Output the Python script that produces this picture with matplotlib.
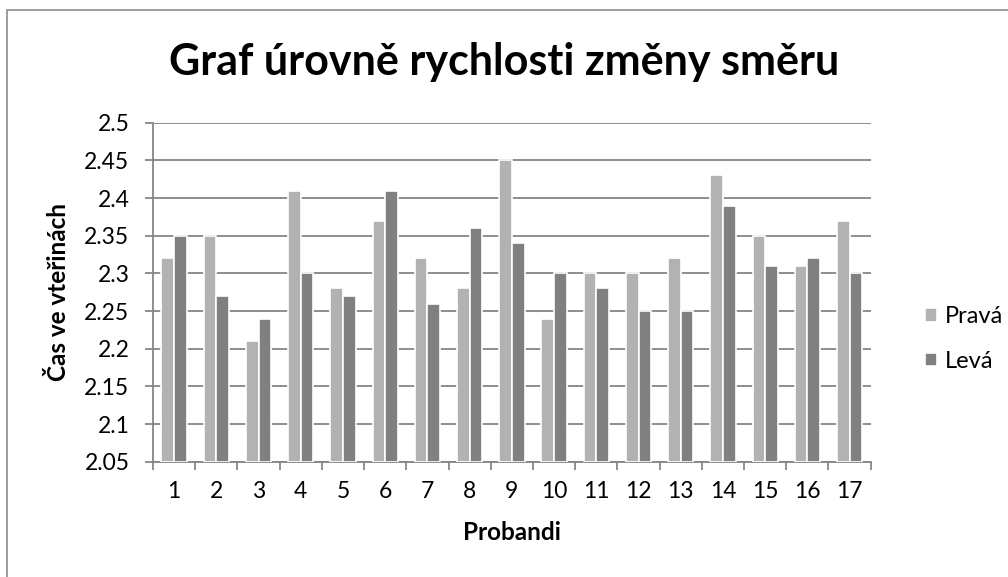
import matplotlib.pyplot as plt
import numpy as np
from matplotlib.patches import Rectangle

# data
probandi = [str(i) for i in range(1, 18)]
prava = [2.32, 2.35, 2.21, 2.41, 2.28, 2.37, 2.32, 2.28, 2.45, 2.24, 2.30, 2.30, 2.32, 2.43, 2.35, 2.31, 2.37]
leva = [2.35, 2.27, 2.24, 2.30, 2.27, 2.41, 2.26, 2.36, 2.34, 2.30, 2.28, 2.25, 2.25, 2.39, 2.31, 2.32, 2.30]
y_ticks = [2.05, 2.1, 2.15, 2.2, 2.25, 2.3, 2.35, 2.4, 2.45, 2.5]

plt.rcParams['font.family'] = ['Lato', 'DejaVu Sans']

fig = plt.figure(figsize=(10.08, 5.77), dpi=100)
ax = fig.add_axes([0.1518, 0.1998, 0.712, 0.5875])

# outer chart border (cropped at right / bottom like the original)
fig.patches.append(Rectangle((7 / 1008, -0.1), 1.2, 1 - 10 / 577 + 0.1,
                             transform=fig.transFigure, fill=False,
                             edgecolor='#8c8c8c', linewidth=1.2))

x = np.arange(len(probandi))
w = 0.30
base = 2.05
ax.bar(x - w / 2, np.array(prava) - base, w, bottom=base, color='#b2b2b2',
       edgecolor='white', linewidth=1.2, label='Pravá', zorder=3)
ax.bar(x + w / 2, np.array(leva) - base, w, bottom=base, color='#808080',
       edgecolor='white', linewidth=1.2, label='Levá', zorder=3)

ax.set_ylim(2.05, 2.5)
ax.set_xlim(-0.5, len(probandi) - 0.5)
ax.set_yticks(y_ticks)
ax.set_yticklabels([f'{v:g}' for v in y_ticks])
ax.yaxis.grid(True, color='#868686', linewidth=1.3, zorder=0)
ax.set_axisbelow(True)

ax.set_xticks(x)
ax.set_xticklabels(probandi)
ax.set_xticks(np.arange(-0.5, len(probandi)), minor=True)
ax.tick_params(axis='x', which='major', length=0, pad=14, labelsize=16.5)
ax.tick_params(axis='x', which='minor', length=6, color='#868686', width=1.3)
ax.tick_params(axis='y', length=6, color='#868686', width=1.3, pad=11, labelsize=16.5)

for s in ['top', 'right']:
    ax.spines[s].set_visible(False)
for s in ['left', 'bottom']:
    ax.spines[s].set_color('#868686')
    ax.spines[s].set_linewidth(1.3)

ax.set_xlabel('Probandi', fontsize=17.5, fontweight='bold')
ax.xaxis.set_label_coords(0.5, -0.175)
ax.set_ylabel('Čas ve vteřinách', fontsize=17.5, fontweight='bold')
ax.yaxis.set_label_coords(-0.116, 0.5)

fig.text(0.5, 1 - 75 / 577, 'Graf úrovně rychlosti změny směru', ha='center', va='baseline',
         fontsize=31, fontweight='bold')

ax.legend(loc='center left', bbox_to_anchor=(913 / 1008, 1 - 339 / 577),
          bbox_transform=fig.transFigure, frameon=False, borderpad=0,
          fontsize=17, handlelength=0.51, handleheight=0.51, labelspacing=1.0,
          handletextpad=0.35)

fig.savefig('out.png', dpi=100)
